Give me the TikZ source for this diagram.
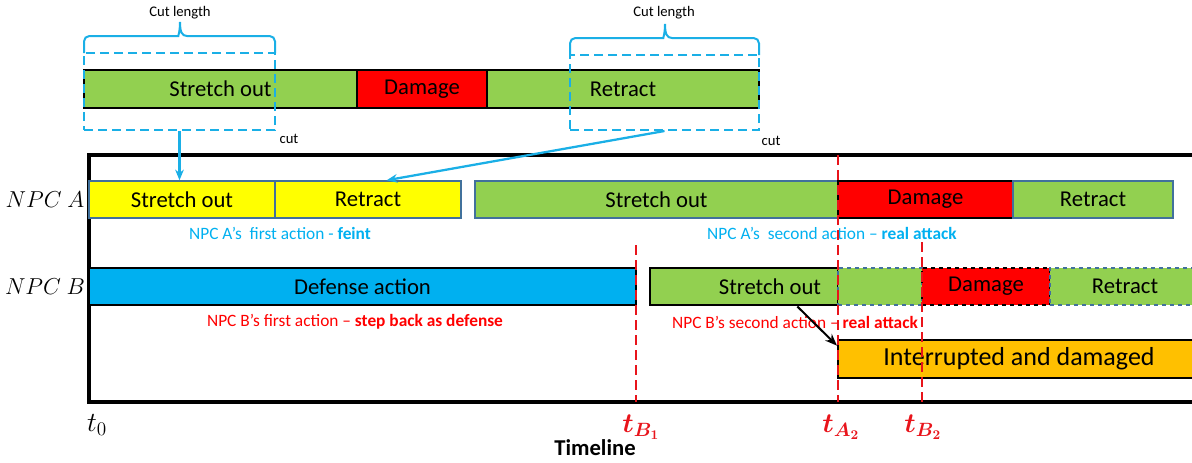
\documentclass[tikz,border=0pt]{standalone}
\usepackage{fontspec}
\setmainfont{Carlito}
\usepackage{bm}
\usetikzlibrary{arrows.meta}

\definecolor{barGreen}{HTML}{92D050}
\definecolor{barRed}{HTML}{FF0000}
\definecolor{barYellow}{HTML}{FFFF00}
\definecolor{barCyan}{HTML}{00B0F0}
\definecolor{barOrange}{HTML}{FFC000}
\definecolor{edgeBlue}{HTML}{41719C}
\definecolor{cutBlue}{HTML}{1AAFE6}
\definecolor{tRed}{HTML}{E8141B}

\tikzset{
  bar/.style={inner sep=0pt, minimum height=27.75pt, line width=1.1pt,
    font=\fontsize{17}{20}\selectfont},
  cutbox/.style={draw=cutBlue, line width=1.5pt, dash pattern=on 7pt off 3.5pt,
    inner sep=0pt},
  cutarrow/.style={draw=cutBlue, line width=1.7pt, -{Stealth[length=8pt,width=6.5pt]}},
  cutlabel/.style={font=\fontsize{11}{13}\selectfont},
  labA/.style={text=barCyan, font=\fontsize{13}{15}\selectfont},
  labB/.style={text=barRed, font=\fontsize{13}{15}\selectfont},
  tline/.style={draw=tRed, line width=2pt, dash pattern=on 7.5pt off 3.75pt},
  tlabel/.style={text=tRed, font=\fontsize{20}{24}\selectfont},
  npclabel/.style={font=\fontsize{19}{23}\selectfont}
}

\begin{document}
\begin{tikzpicture}[x=0.75pt, y=-0.75pt]
        \clip (0,0) rectangle (1192,462);

        % Исходное действие
        \node[bar, draw=black, line width=1.5pt, fill=barGreen, minimum height=28.5pt, minimum width=204.75pt] (topS) at (220.5,89) {Stretch out};
        \node[bar, draw=black, line width=1.5pt, fill=barRed, minimum height=28.5pt, minimum width=97.5pt] (topD) at (422,89) {Damage};
        \node[bar, draw=black, line width=1.5pt, fill=barGreen, minimum height=28.5pt, minimum width=204pt] (topR) at (623,89) {Retract};

        % Отрезаемые части
        \node[cutbox, minimum width=143.25pt, minimum height=57.75pt] (cutA) at (179.5,91.5) {};
        \node[cutbox, minimum width=141.75pt, minimum height=56.25pt] (cutB) at (664.5,92.5) {};

        % Скобки
        \draw[draw=cutBlue, line width=1.5pt] (84,53) [rounded corners=4pt] -- (84,36) -- (173,36) [sharp corners]
            .. controls (178,36) and (180,32) .. (180,22) .. controls (180,32) and (182,36) .. (187,36)
            [rounded corners=4pt] -- (275,36) -- (275,53);
        \draw[draw=cutBlue, line width=1.5pt] (570,55) [rounded corners=4pt] -- (570,38) -- (658,38) [sharp corners]
            .. controls (663,38) and (665,34) .. (665,24) .. controls (665,34) and (667,38) .. (672,38)
            [rounded corners=4pt] -- (759,38) -- (759,55);
        \node[cutlabel] (lenA) at (180,13) {Cut length};
        \node[cutlabel] (lenB) at (664,13) {Cut length};
        \node[cutlabel] (cutTxtA) at (289,139) {cut};
        \node[cutlabel] (cutTxtB) at (771,141) {cut};

        % Рамка
        \draw[line width=2.3pt] (1200,155) -- (89,155) -- (89,402) -- (1200,402);

        % NPC A
        \node[npclabel] (npcA) at (45,200) {$NPC\ A$};
        \node[bar, draw=edgeBlue, fill=barYellow, minimum width=139.5pt] (a1s) at (182,199.5) {Stretch out};
        \node[bar, draw=edgeBlue, fill=barYellow, minimum width=139.5pt] (a1r) at (368,199.5) {Retract};
        \node[bar, draw=edgeBlue, fill=barGreen, minimum width=272.25pt] (a2s) at (656.5,199.5) {Stretch out};
        \node[bar, draw=black, line width=1.5pt, fill=barRed, minimum width=131.25pt] (a2d) at (925.5,199.5) {Damage};
        \node[bar, draw=edgeBlue, fill=barGreen, minimum width=120pt] (a2r) at (1093,199.5) {Retract};
        \node[labA] (labA1) at (280,233) {NPC A’s~ first action - \textbf{feint}};
        \node[labA] (labA2) at (832,233) {NPC A’s~ second action – \textbf{real attack}};

        % NPC B
        \node[npclabel] (npcB) at (45,287) {$NPC\ B$};
        \node[bar, draw=black, line width=1.5pt, fill=barCyan, minimum width=410.25pt] (bdef) at (362.5,286.5) {Defense action};
        \node[bar, draw=black, line width=2.2pt, fill=barGreen, minimum width=141pt] (b2s) at (744,286.5) {\hspace*{39pt}Stretch out};
        \node[bar, draw=edgeBlue, dashed, fill=barGreen, minimum width=63pt] (b2x) at (880,286.5) {};
        \node[bar, draw=black, dashed, fill=barRed, minimum width=96pt] (b2d) at (986,286.5) {Damage};
        \node[bar, draw=edgeBlue, dashed, fill=barGreen, minimum width=112.5pt] (b2r) at (1125,286.5) {Retract};
        \node[labB] (labB1) at (355,322) {NPC B’s first action – \textbf{step back as defense}};
        \node[labB] (labB2) at (795,322) {NPC B’s second action – \textbf{real attack}};

        % Прерванное действие
        \node[bar, draw=black, line width=1.5pt, fill=barOrange, minimum height=28.5pt, minimum width=271.5pt,
            font=\fontsize{19.5}{23}\selectfont] (intr) at (1019,359) {Interrupted and damaged};

        % Моменты времени
        \coordinate (b1top) at (636,245);
        \coordinate (b1bot) at (636,402);
        \coordinate (a2top) at (838,155);
        \coordinate (a2bot) at (838,402);
        \coordinate (b2top) at (922,242);
        \coordinate (b2bot) at (922,402);
        \draw[tline] (b1top) -- (b1bot);
        \draw[tline] (a2top) -- (a2bot);
        \draw[tline] (b2top) -- (b2bot);
        \node[font=\fontsize{20}{24}\selectfont] (t0) at (97,425) {$t_0$};
        \node[tlabel] (tB1) at (641,427) {$\bm{t_{B_1}}$};
        \node[tlabel] (tA2) at (841,427) {$\bm{t_{A_2}}$};
        \node[tlabel] (tB2) at (923,427) {$\bm{t_{B_2}}$};
        \node[font=\bfseries\fontsize{17}{20}\selectfont] (timeline) at (595,448) {Timeline};

        % Стрелки
        \draw[cutarrow] (cutA.south) -- (cutA.south |- a1s.north);
        \draw[cutarrow] (cutB.south) -- ([xshift=14pt]a1r.north);
        \draw[line width=1.5pt, -{Stealth[length=9pt,width=7pt]}] ([xshift=40pt]b2s.south) -- ([yshift=-5pt]intr.north west);
\end{tikzpicture}
\end{document}
